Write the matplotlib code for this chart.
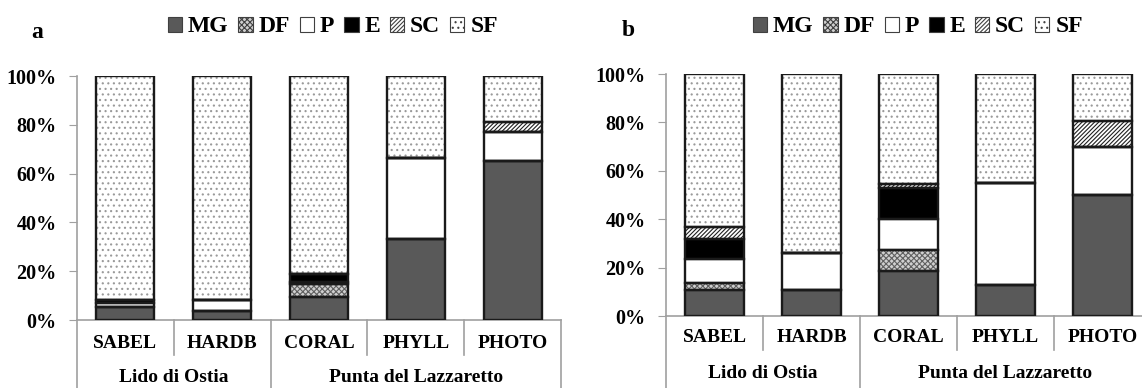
import numpy as np
import matplotlib.pyplot as plt
from matplotlib.patches import Patch
from matplotlib.transforms import blended_transform_factory

plt.rcParams['font.family'] = ['Liberation Serif', 'DejaVu Serif']
plt.rcParams['font.weight'] = 'bold'
plt.rcParams['hatch.linewidth'] = 0.8

# ---------------- data (percent of total) ----------------
sites = ['SABEL', 'HARDB', 'CORAL', 'PHYLL', 'PHOTO']
groups = ['Lido di Ostia', 'Punta del Lazzaretto']
group_sizes = [2, 3]
classes = ['MG', 'DF', 'P', 'E', 'SC', 'SF']

# panel a
a_MG = [5.3, 3.7, 9.3, 33.3, 65.3]
a_DF = [0.0, 0.0, 5.4, 0.0, 0.0]
a_P = [1.8, 4.5, 0.9, 33.1, 11.6]
a_E = [1.1, 0.0, 3.4, 0.0, 0.0]
a_SC = [0.0, 0.0, 0.0, 0.0, 4.1]
a_SF = [91.8, 91.8, 81.0, 33.6, 19.0]

# panel b
b_MG = [10.7, 10.7, 18.7, 13.0, 50.1]
b_DF = [2.8, 0.0, 8.5, 0.0, 0.0]
b_P = [9.9, 15.5, 13.0, 42.1, 19.7]
b_E = [8.3, 0.0, 12.7, 0.0, 0.0]
b_SC = [5.1, 0.0, 1.8, 0.0, 10.6]
b_SF = [63.2, 73.8, 45.3, 44.9, 19.6]

# ---------------- styles ----------------
styles = {
    'MG': dict(fc='#595959', hatch=None, hc='#595959'),
    'DF': dict(fc='#d0d0d0', hatch='xxxxxx', hc='#606060'),
    'P': dict(fc='white', hatch=None, hc='white'),
    'E': dict(fc='black', hatch=None, hc='black'),
    'SC': dict(fc='white', hatch='////////', hc='#202020'),
    'SF': dict(fc='white', hatch='...', hc='#9a9a9a'),
}

W, H = 1142, 388
fig = plt.figure(figsize=(W / 100, H / 100), dpi=100)


def draw_panel(rect, series, letter, letter_xy, legend_x, lab_px, sep_px, bottom_px):
    ax = fig.add_axes(rect)
    x = np.arange(len(sites))
    ax_h = rect[3] * H
    bottom = np.zeros(len(sites))
    for name, vals in zip(classes, series):
        st = styles[name]
        vals = np.array(vals)
        ax.bar(x, vals, 0.6, bottom=bottom, color=st['fc'], hatch=st['hatch'],
               edgecolor=st['hc'], linewidth=0, zorder=2)
        ax.bar(x, vals, 0.6, bottom=bottom, fill=False, edgecolor='#1a1a1a',
               linewidth=1.7, zorder=3)
        bottom += vals

    ax.set_xlim(-0.5, len(sites) - 0.5)
    ax.set_ylim(0, 100)
    ax.set_yticks(np.arange(0, 101, 20))
    ax.set_yticklabels([f'{v}%' for v in range(0, 101, 20)])
    ax.tick_params(axis='y', direction='out', length=6, color='#a0a0a0',
                   labelsize=14.5, pad=8.5)
    ax.set_xticks([])
    for sp in ['top', 'right']:
        ax.spines[sp].set_visible(False)
    for sp in ['left', 'bottom']:
        ax.spines[sp].set_color('#a0a0a0')
        ax.spines[sp].set_linewidth(1.2)

    tr = blended_transform_factory(ax.transData, ax.transAxes)
    y_lab = -lab_px[0] / ax_h
    y_grp = -lab_px[1] / ax_h
    y_sep = -sep_px / ax_h
    y_bot = -bottom_px / ax_h

    for i, s in enumerate(sites):
        ax.text(i, y_lab, s, transform=tr, ha='center', va='center',
                fontsize=14, fontweight='bold')

    # separators between sites and between groups
    edges = np.cumsum([0] + group_sizes) - 0.5
    for i in range(len(sites) + 1):
        xe = i - 0.5
        y_end = y_bot if xe in edges else y_sep
        ax.plot([xe, xe], [0, y_end], transform=tr, color='#a0a0a0',
                linewidth=1.2, clip_on=False)
    for g, lo, hi in zip(groups, edges[:-1], edges[1:]):
        ax.text((lo + hi) / 2, y_grp, g, transform=tr, ha='center', va='center',
                fontsize=14, fontweight='bold')

    fig.text(letter_xy[0] / W, 1 - letter_xy[1] / H, letter, fontsize=17,
             fontweight='bold', ha='left', va='center')

    handles = [Patch(facecolor=styles[c]['fc'], hatch=styles[c]['hatch'],
                     edgecolor='#404040', linewidth=0.8) for c in classes]
    fig.legend(handles, classes, loc='center left',
               bbox_to_anchor=(legend_x / W, 1 - 27 / H), ncol=6, frameon=False,
               prop={'size': 17, 'weight': 'bold'}, handlelength=0.6,
               handleheight=0.6, handletextpad=0.25, columnspacing=0.42,
               borderpad=0, borderaxespad=0)
    return ax


draw_panel([77 / W, 1 - 320 / H, 484 / W, 244 / H],
           [a_MG, a_DF, a_P, a_E, a_SC, a_SF], 'a', (31, 33), 168,
           (23, 57), 35, 70)
draw_panel([666 / W, 1 - 316 / H, 485 / W, 242 / H],
           [b_MG, b_DF, b_P, b_E, b_SC, b_SF], 'b', (622, 31), 753,
           (22, 57), 34, 75)

fig.savefig('out.png', dpi=100)
